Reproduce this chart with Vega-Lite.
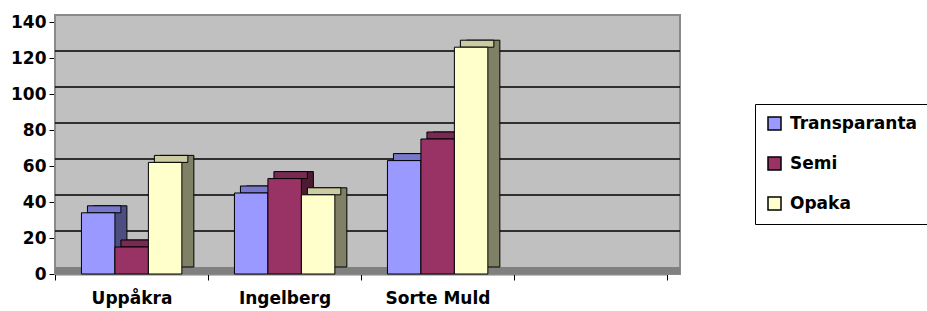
{
  "$schema": "https://vega.github.io/schema/vega-lite/v6.json",
  "autosize": {"type": "none"},
  "width": 625,
  "height": 252,
  "padding": {"left": 55, "top": 22, "right": 247, "bottom": 37},
  "background": "white",
  "config": {
    "view": {"stroke": null},
    "font": "DejaVu Sans",
    "axis": {"labelOverlap": false, "zindex": 2, "grid": false, "domainColor": "black", "domainWidth": 1.5, "tickColor": "black", "tickSize": 6, "labelFont": "DejaVu Sans", "labelFontWeight": "bold", "labelFontSize": 17, "labelColor": "black", "title": null},
    "axisY": {"labelPadding": 3, "tickCount": 8},
    "axisX": {"labelPadding": 10, "labelAngle": 0, "labelAlign": "center", "tickBand": "extent"}
  },
  "datasets": {
    "counts": [
      {"site": "Uppåkra", "series": "Transparanta", "value": 34},
      {"site": "Uppåkra", "series": "Semi", "value": 15},
      {"site": "Uppåkra", "series": "Opaka", "value": 62},
      {"site": "Ingelberg", "series": "Transparanta", "value": 45},
      {"site": "Ingelberg", "series": "Semi", "value": 53},
      {"site": "Ingelberg", "series": "Opaka", "value": 44},
      {"site": "Sorte Muld", "series": "Transparanta", "value": 63},
      {"site": "Sorte Muld", "series": "Semi", "value": 75},
      {"site": "Sorte Muld", "series": "Opaka", "value": 126}
    ],
    "grid": [{"level": 20}, {"level": 40}, {"level": 60}, {"level": 80}, {"level": 100}, {"level": 120}],
    "frame": [{"top": 140, "bottom": 0}]
  },
  "data": {"name": "counts"},
  "layer": [
    {
      "data": {"name": "frame"},
      "mark": {"type": "rect", "fill": "#C0C0C0", "stroke": "#8A8A8A", "strokeWidth": 2, "yOffset": -7, "y2Offset": 0},
      "encoding": {
        "y": {"field": "top", "type": "quantitative", "scale": {"domain": [0, 140], "nice": false}, "axis": {"values": [0, 20, 40, 60, 80, 100, 120, 140], "tickCount": 8, "labelOverlap": false}},
        "y2": {"field": "bottom"}
      }
    },
    {
      "data": {"name": "frame"},
      "mark": {"type": "rect", "fill": "#808080", "yOffset": -7, "y2Offset": 0},
      "encoding": {
        "y": {"field": "bottom", "type": "quantitative", "axis": {"values": [0, 20, 40, 60, 80, 100, 120, 140], "tickCount": 8, "labelOverlap": false}},
        "y2": {"field": "bottom"}
      }
    },
    {
      "data": {"name": "grid"},
      "mark": {"type": "rule", "color": "black", "strokeWidth": 1.5, "yOffset": -7},
      "encoding": {"y": {"field": "level", "type": "quantitative", "axis": {"values": [0, 20, 40, 60, 80, 100, 120, 140], "tickCount": 8, "labelOverlap": false}}}
    },
    {
      "layer": [
        {
          "mark": {"type": "bar", "yOffset": -7, "y2Offset": -7, "stroke": "black", "strokeWidth": 1},
          "encoding": {
            "x": {"field": "site", "type": "nominal", "scale": {"domain": ["Uppåkra", "Ingelberg", "Sorte Muld", " "], "range": [0, 612], "paddingInner": 0, "paddingOuter": 0}},
            "xOffset": {"field": "series", "type": "nominal", "scale": {"domain": ["Transparanta", "Semi", "Opaka"], "range": [12, 165.3], "paddingInner": 0, "paddingOuter": 0.79}},
            "y": {"field": "value", "type": "quantitative", "axis": {"values": [0, 20, 40, 60, 80, 100, 120, 140], "tickCount": 8, "labelOverlap": false}},
            "y2": {"datum": 0},
            "fill": {"field": "series", "type": "nominal", "scale": {"domain": ["Transparanta", "Semi", "Opaka"], "range": ["#4D4D80", "#4D1A33", "#808066"]}, "legend": null}
          }
        },
        {
          "mark": {"type": "bar", "yOffset": -7, "y2Offset": 0, "stroke": "black", "strokeWidth": 1},
          "encoding": {
            "x": {"field": "site", "type": "nominal"},
            "xOffset": {"field": "series", "type": "nominal", "scale": {"domain": ["Transparanta", "Semi", "Opaka"], "range": [6, 159.3], "paddingInner": 0, "paddingOuter": 0.79}},
            "y": {"field": "value", "type": "quantitative", "axis": {"values": [0, 20, 40, 60, 80, 100, 120, 140], "tickCount": 8, "labelOverlap": false}},
            "y2": {"field": "value"},
            "fill": {"field": "series", "type": "nominal", "scale": {"domain": ["Transparanta", "Semi", "Opaka"], "range": ["#7777CC", "#7A2952", "#CCCCA3"]}, "legend": null}
          }
        },
        {
          "mark": {"type": "bar", "stroke": "black", "strokeWidth": 1},
          "encoding": {
            "x": {"field": "site", "type": "nominal"},
            "xOffset": {"field": "series", "type": "nominal", "scale": {"domain": ["Transparanta", "Semi", "Opaka"], "range": [0, 153.3], "paddingInner": 0, "paddingOuter": 0.79}},
            "y": {"field": "value", "type": "quantitative", "axis": {"values": [0, 20, 40, 60, 80, 100, 120, 140], "tickCount": 8, "labelOverlap": false}},
            "y2": {"datum": 0},
            "fill": {
              "field": "series", "type": "nominal",
              "scale": {"domain": ["Transparanta", "Semi", "Opaka"], "range": ["#9999FF", "#993366", "#FFFFCC"]},
              "legend": {"orient": "none", "legendX": 700, "legendY": 82, "title": null, "padding": 11, "strokeColor": "black", "fillColor": "white", "symbolType": "square", "symbolSize": 169, "symbolStrokeColor": "black", "symbolStrokeWidth": 1.5, "labelOffset": 7, "rowPadding": 21, "labelFont": "DejaVu Sans", "labelFontWeight": "bold", "labelFontSize": 17, "labelColor": "black"}
            }
          }
        }
      ],
      "resolve": {"scale": {"fill": "independent", "xOffset": "independent"}}
    }
  ],
  "resolve": {"scale": {"fill": "independent"}}
}
